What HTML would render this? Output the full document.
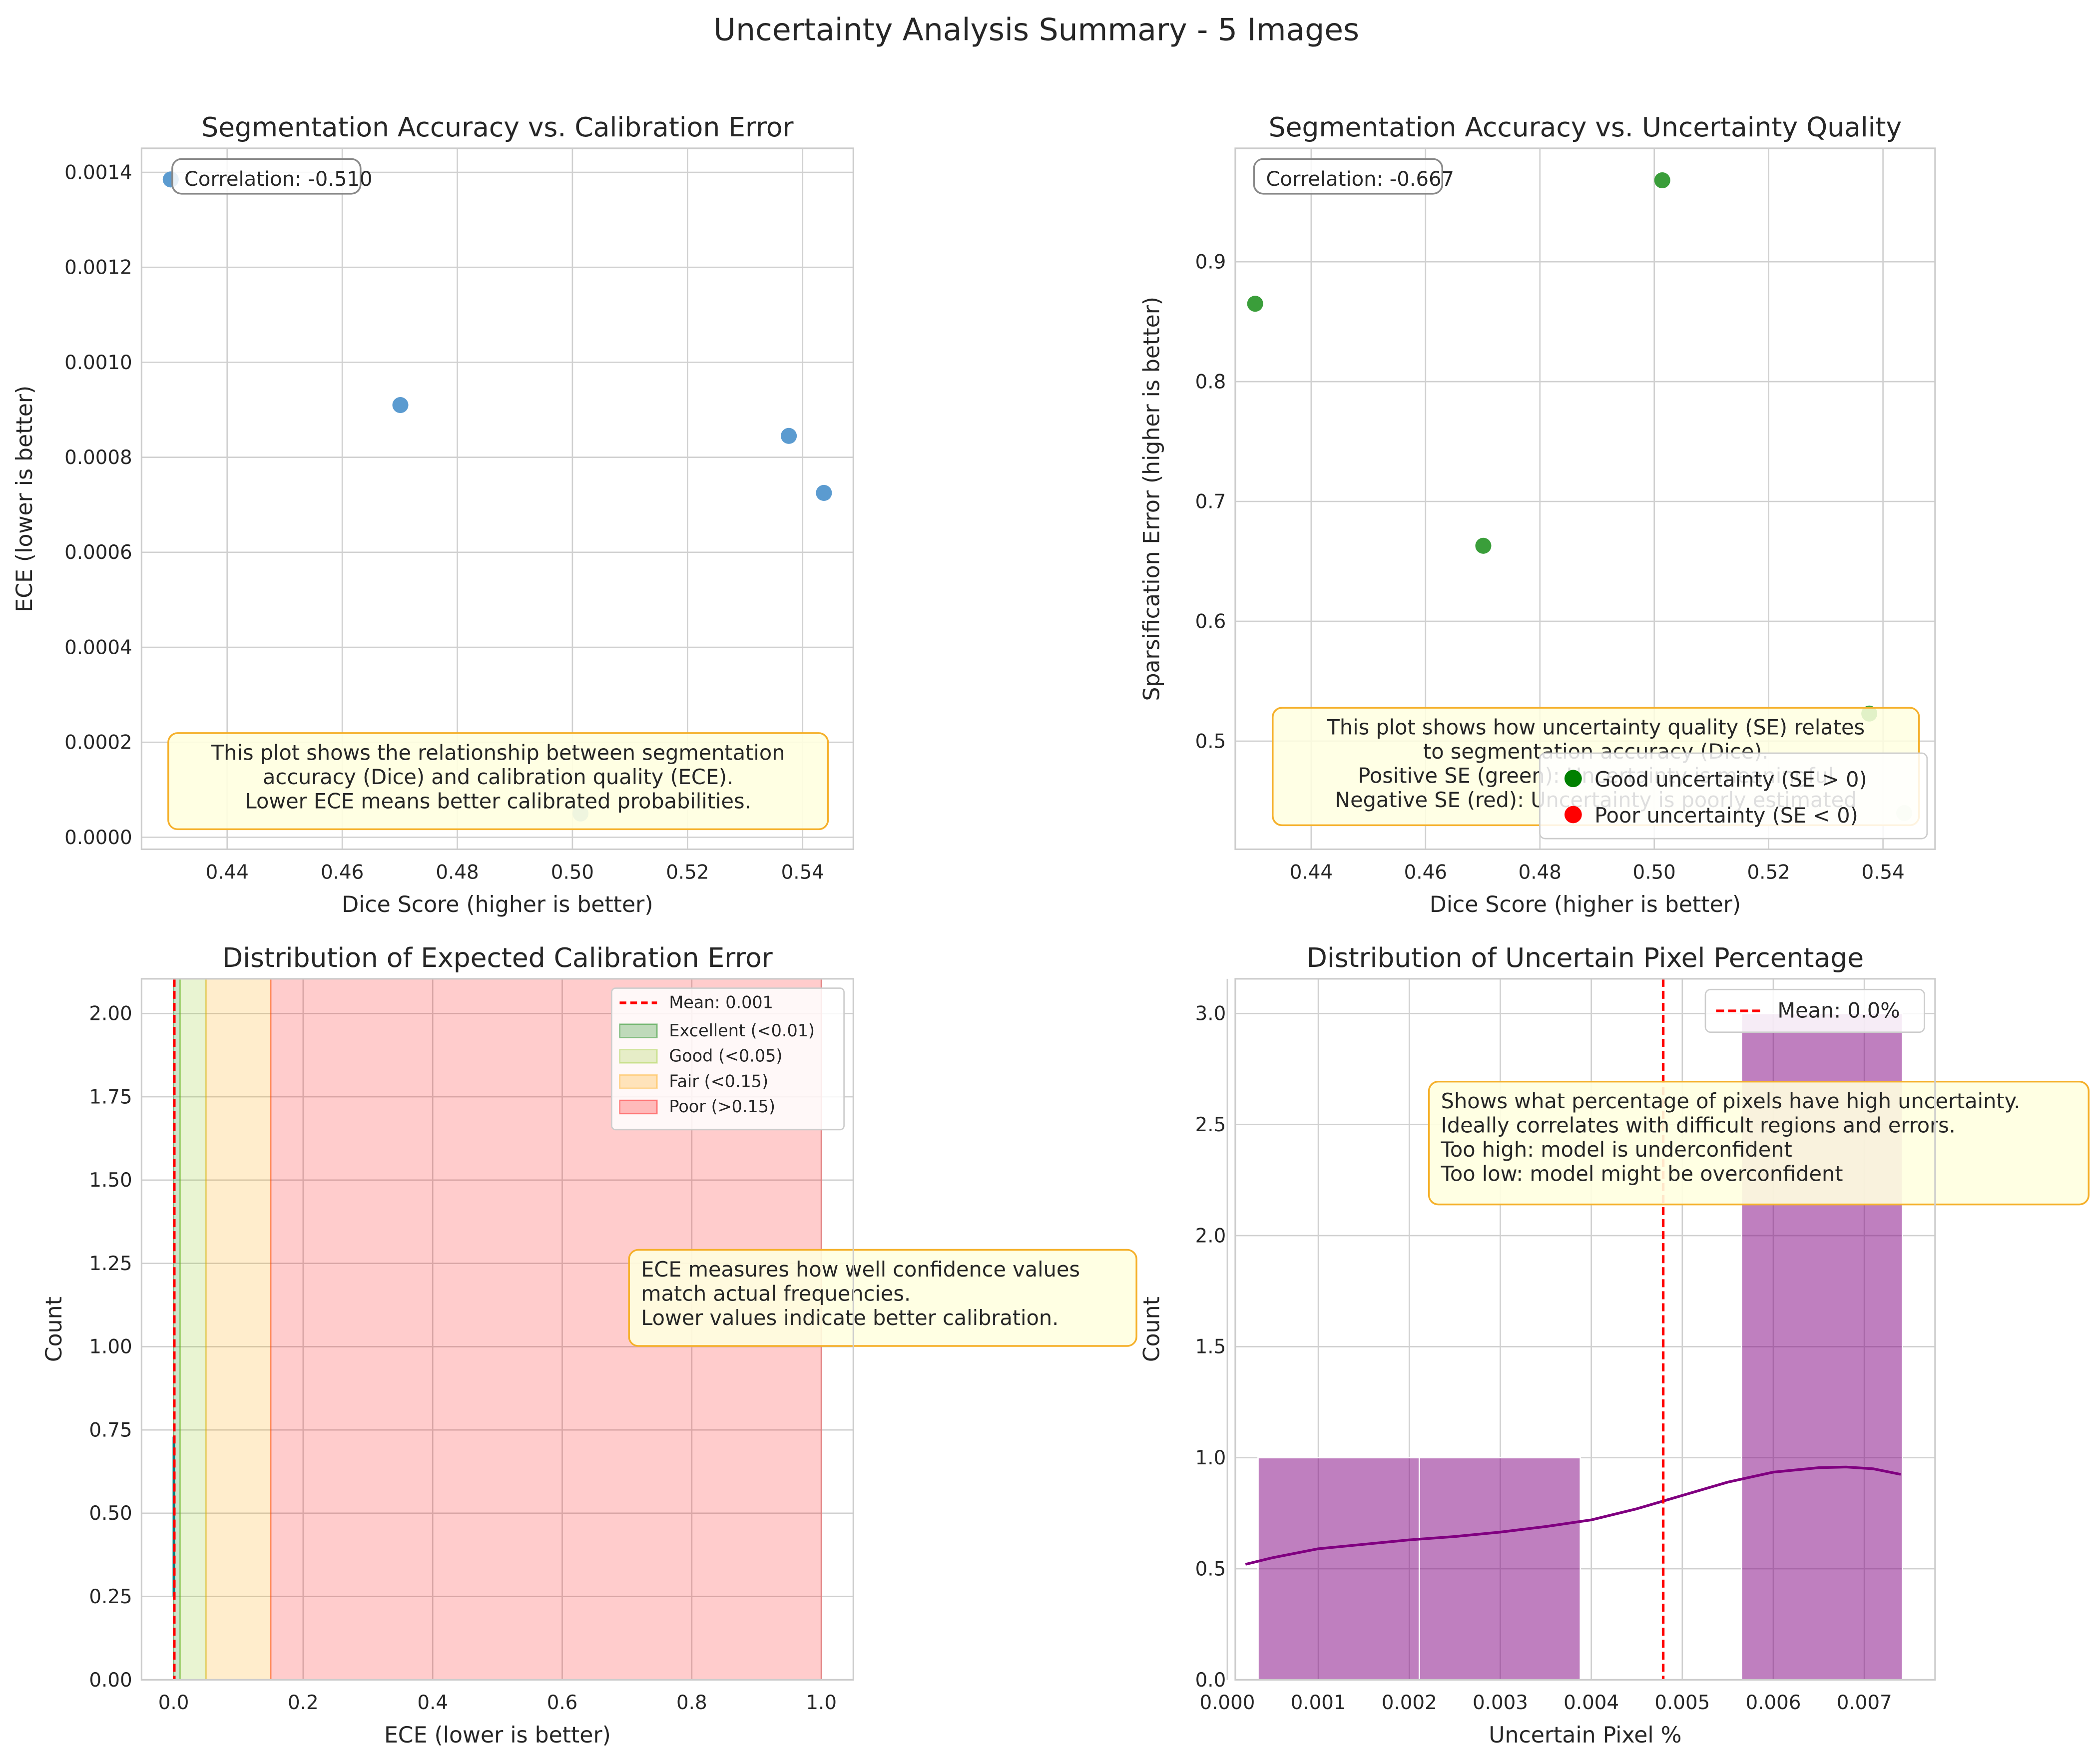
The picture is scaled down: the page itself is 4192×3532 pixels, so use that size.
<!DOCTYPE html>
<html><head><meta charset="utf-8"><style>html,body{margin:0;padding:0;background:#fff}svg{display:block}text{font-family:"DejaVu Sans","Liberation Sans",sans-serif;fill:#262626}</style></head>
<body>
<svg id="fig" xmlns="http://www.w3.org/2000/svg" width="4192" height="3532" viewBox="0 0 1568 1321">
<rect width="1568" height="1321" fill="#fff"/>
<text x="776" y="30" font-size="23" text-anchor="middle">Uncertainty Analysis Summary - 5 Images</text>
<g id="p1"></g>
<g id="p2"></g>
<g id="p3"></g>
<g id="p4"></g>
</svg>
<script>
const dice = [0.4302, 0.4701, 0.5014, 0.5376, 0.5437];
const eceVals = [0.001385, 0.00091, 0.00005, 0.000845, 0.000725];
const seVals = [0.865, 0.663, 0.968, 0.523, 0.44];
const diceTicks = ["0.44","0.46","0.48","0.50","0.52","0.54"];
const eceTicks = ["0.0000","0.0002","0.0004","0.0006","0.0008","0.0010","0.0012","0.0014"];
const seTicks = ["0.5","0.6","0.7","0.8","0.9"];
const eceHistTicksX = ["0.0","0.2","0.4","0.6","0.8","1.0"];
const eceHistTicksY = ["0.00","0.25","0.50","0.75","1.00","1.25","1.50","1.75","2.00"];
const eceMean = 0.001;
const pixBinEdges = [0.000338, 0.00211, 0.00388, 0.00565, 0.00742];
const pixCounts = [1, 1, 0, 3];
const pixKdeX = [0.00020, 0.0005, 0.0010, 0.0015, 0.0020, 0.0025, 0.0030, 0.0035, 0.0040, 0.0045, 0.0050, 0.0055, 0.0060, 0.0065, 0.0068, 0.0071, 0.0074];
const pixKdeY = [0.52, 0.55, 0.59, 0.61, 0.63, 0.645, 0.665, 0.69, 0.72, 0.77, 0.83, 0.89, 0.935, 0.955, 0.958, 0.95, 0.925];
const pixMean = 0.00479;
const pixTicksX = ["0.000","0.001","0.002","0.003","0.004","0.005","0.006","0.007"];
const pixTicksY = ["0.0","0.5","1.0","1.5","2.0","2.5","3.0"];

const NS="http://www.w3.org/2000/svg";
function mk(parent,tag,attrs,txt){const e=document.createElementNS(NS,tag);for(const k in attrs)e.setAttribute(k,attrs[k]);if(txt!==undefined)e.textContent=txt;parent.appendChild(e);return e;}
function lin(d0,d1,r0,r1){return v=>r0+(v-d0)/(d1-d0)*(r1-r0);}

function frame(g,L,T,R,B,sx,sy,xt,yt,title,xl,yl,yFmtX){
  mk(g,'rect',{x:L,y:T,width:R-L,height:B-T,fill:'#fff'});
  const grid=mk(g,'g',{});
  
  xt.forEach(t=>{const x=sx(parseFloat(t));mk(grid,'line',{x1:x,x2:x,y1:T,y2:B,stroke:'#d0d0d0','stroke-width':1});
    const lb=mk(g,'text',{x:x,y:B+22,'font-size':14.5,'text-anchor':'middle'},t);});
  yt.forEach(t=>{const y=sy(parseFloat(t));mk(grid,'line',{x1:L,x2:R,y1:y,y2:y,stroke:'#d0d0d0','stroke-width':1});
    const lb=mk(g,'text',{x:L-7,y:y+5,'font-size':14.5,'text-anchor':'end'},t);});
  const tt=mk(g,'text',{x:(L+R)/2,y:T-9,'font-size':20,'text-anchor':'middle'},title);
  const xx=mk(g,'text',{x:(L+R)/2,y:B+47,'font-size':16.5,'text-anchor':'middle'},xl);
  const yy=mk(g,'text',{x:0,y:0,'font-size':16.5,'text-anchor':'middle',transform:`translate(${yFmtX},${(T+B)/2}) rotate(-90)`},yl);
}
function border(g,L,T,R,B){const b=mk(g,'rect',{x:L,y:T,width:R-L,height:B-T,fill:'none',stroke:'#cccccc','stroke-width':1.2});}
function box(g,x,y,w,h,lines,fs,anchor,fill,stroke,op,name){
  const r=mk(g,'rect',{x:x,y:y,width:w,height:h,rx:7,fill:fill,stroke:stroke,'stroke-width':1.3,'fill-opacity':op});
  
  lines.forEach((l,i)=>{const tx=anchor==='middle'?x+w/2:x+9;const t=mk(g,'text',{x:tx,y:y+20+i*fs*1.17,'font-size':fs,'text-anchor':anchor},l);});
}

// Panel 1
(function(){const g=document.getElementById('p1');const L=106,T=111,R=639,B=636;
const sx=lin(0.43,0.54,127,601),sy=lin(0,0.0014,627,129);
frame(g,L,T,R,B,sx,sy,diceTicks,eceTicks,'Segmentation Accuracy vs. Calibration Error','Dice Score (higher is better)','ECE (lower is better)',24);
dice.forEach((d,i)=>{const c=mk(g,'circle',{cx:sx(d),cy:sy(eceVals[i]),r:6,fill:'#5b9bd0'});});
box(g,129,119,141,26,['Correlation: -0.510'],15,'start','#fff','#888',0.85,'correlation-box');
box(g,126,549,494,72,['This plot shows the relationship between segmentation','accuracy (Dice) and calibration quality (ECE).','Lower ECE means better calibrated probabilities.'],15.5,'middle','#ffffe0','#f5b02a',0.9,'info-box');
border(g,L,T,R,B);})();

// Panel 2
(function(){const g=document.getElementById('p2');const L=925,T=111,R=1449,B=636;
const sx=lin(0.43,0.54,939,1410),sy=lin(0.5,0.9,555,196);
frame(g,L,T,R,B,sx,sy,diceTicks,seTicks,'Segmentation Accuracy vs. Uncertainty Quality','Dice Score (higher is better)','Sparsification Error (higher is better)',868);
seVals.forEach((s,i)=>{const c=mk(g,'circle',{cx:sx(dice[i]),cy:sy(s),r:6,fill:s>0?'#3a9e3a':'#e00'});});
box(g,939,119,141,26,['Correlation: -0.667'],15,'start','#fff','#888',0.85,'correlation-box');
box(g,953,530,484,88,['This plot shows how uncertainty quality (SE) relates','to segmentation accuracy (Dice).','Positive SE (green): Uncertainty is meaningful','Negative SE (red): Uncertainty is poorly estimated'],15.5,'middle','#ffffe0','#f5b02a',0.85,'info-box');
const lg=mk(g,'g',{});
mk(lg,'rect',{x:1153,y:564,width:290,height:64,rx:4,fill:'#fff','fill-opacity':0.85,stroke:'#ccc'});
mk(lg,'circle',{cx:1178,cy:583,r:6.5,fill:'green'});mk(lg,'text',{x:1194,y:589,'font-size':15.5},'Good uncertainty (SE > 0)');
mk(lg,'circle',{cx:1178,cy:610,r:6.5,fill:'red'});mk(lg,'text',{x:1194,y:616,'font-size':15.5},'Poor uncertainty (SE < 0)');
border(g,L,T,R,B);})();

// Panel 3
(function(){const g=document.getElementById('p3');const L=106,T=733,R=639,B=1258;
const sx=lin(0,1,130,615),sy=lin(0,2,1258,759);
frame(g,L,T,R,B,sx,sy,eceHistTicksX,eceHistTicksY,'Distribution of Expected Calibration Error','ECE (lower is better)','Count',46);
const zones=[[0,0.01,'green',0.2],[0.01,0.05,'#9acd32',0.22],[0.05,0.15,'orange',0.2],[0.15,1,'red',0.2]];
const zn=['zone-excellent','zone-good','zone-fair','zone-poor'];
zones.forEach((z,i)=>{const r=mk(g,'rect',{x:sx(z[0]),y:T,width:sx(z[1])-sx(z[0]),height:B-T,fill:z[2],'fill-opacity':z[3],stroke:z[2],'stroke-opacity':0.35});});
const k=mk(g,'line',{x1:sx(0.0005),x2:sx(0.0005),y1:sy(0.25),y2:sy(0.73),stroke:'#008080','stroke-width':2});
const m=mk(g,'line',{x1:sx(eceMean),x2:sx(eceMean),y1:T,y2:B,stroke:'red','stroke-width':2,'stroke-dasharray':'6,3'});
const lg=mk(g,'g',{});
mk(lg,'rect',{x:458,y:740,width:174,height:106,rx:3,fill:'#fff','fill-opacity':0.85,stroke:'#ccc'});
mk(lg,'line',{x1:464,x2:492,y1:751,y2:751,stroke:'red','stroke-width':2,'stroke-dasharray':'5,3'});
mk(lg,'text',{x:501,y:755,'font-size':12.5},'Mean: 0.001');
const items=[['green',0.25,'Excellent (<0.01)'],['#9acd32',0.25,'Good (<0.05)'],['orange',0.25,'Fair (<0.15)'],['red',0.25,'Poor (>0.15)']];
items.forEach((it,i)=>{const y=772+i*19;mk(lg,'rect',{x:464,y:y-5,width:28,height:10,fill:it[0],'fill-opacity':it[1],stroke:it[0],'stroke-opacity':0.4});mk(lg,'text',{x:501,y:y+4,'font-size':12.5},it[2]);});
box(g,471,936,380,72,['ECE measures how well confidence values','match actual frequencies.','Lower values indicate better calibration.'],15.5,'start','#ffffe0','#f5b02a',0.9,'info-box');
border(g,L,T,R,B);})();

// Panel 4
(function(){const g=document.getElementById('p4');const L=925,T=733,R=1449,B=1258;
const sx=lin(0,0.007,919,1396),sy=lin(0,3,1258,759);
frame(g,L,T,R,B,sx,sy,pixTicksX,pixTicksY,'Distribution of Uncertain Pixel Percentage','Uncertain Pixel %','Count',868);
pixCounts.forEach((c,i)=>{if(!c)return;const x0=sx(pixBinEdges[i]),x1=sx(pixBinEdges[i+1]);const r=mk(g,'rect',{x:x0,y:sy(c),width:x1-x0,height:sy(0)-sy(c),fill:'#800080','fill-opacity':0.5,stroke:'#fff','stroke-width':1});});
const pts=pixKdeX.map((x,i)=>sx(x)+','+sy(pixKdeY[i])).join(' ');
const kd=mk(g,'polyline',{points:pts,fill:'none',stroke:'purple','stroke-width':2,'stroke-linejoin':'round'});
const m=mk(g,'line',{x1:sx(pixMean),x2:sx(pixMean),y1:T,y2:B,stroke:'red','stroke-width':2,'stroke-dasharray':'6,3'});
const lg=mk(g,'g',{});
mk(lg,'rect',{x:1277,y:741,width:164,height:32,rx:4,fill:'#fff','fill-opacity':0.85,stroke:'#ccc'});
mk(lg,'line',{x1:1285,x2:1320,y1:757,y2:757,stroke:'red','stroke-width':2,'stroke-dasharray':'6,3'});
mk(lg,'text',{x:1331,y:762,'font-size':15.5},'Mean: 0.0%');
box(g,1070,810,494,92,['Shows what percentage of pixels have high uncertainty.','Ideally correlates with difficult regions and errors.','Too high: model is underconfident','Too low: model might be overconfident'],15.5,'start','#ffffe0','#f5b02a',0.9,'info-box');
border(g,L,T,R,B);})();
</script>
</body></html>
